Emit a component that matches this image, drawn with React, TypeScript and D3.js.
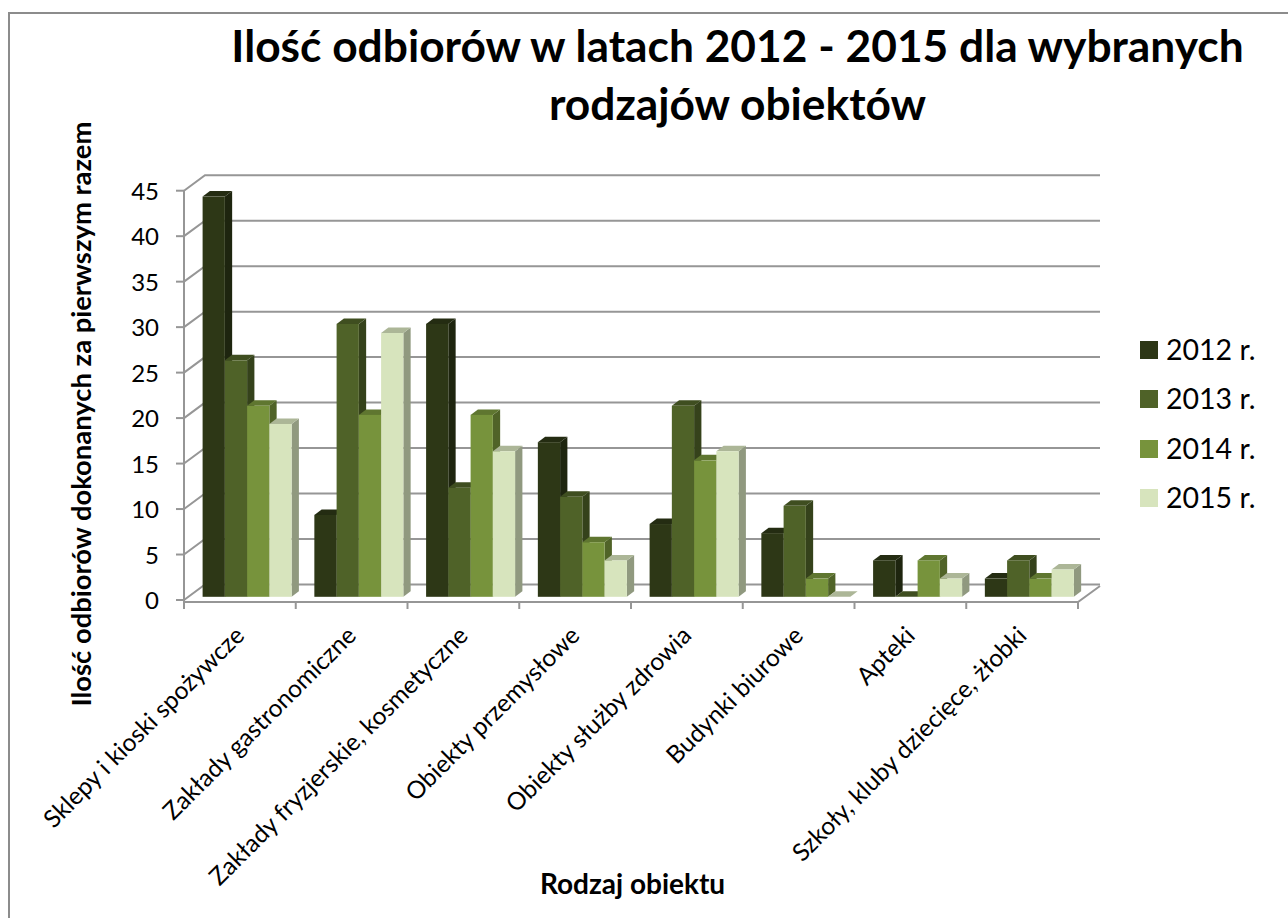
import React from "react";
import * as d3 from "d3";

const categories = ["Sklepy i kioski spożywcze","Zakłady gastronomiczne","Zakłady fryzjerskie, kosmetyczne","Obiekty przemysłowe","Obiekty służby zdrowia","Budynki biurowe","Apteki","Szkoły, kluby dziecięce, żłobki"];
const years = ["2012 r.","2013 r.","2014 r.","2015 r."];
const v2012 = [44,9,30,17,8,7,4,2];
const v2013 = [26,30,12,11,21,10,0,4];
const v2014 = [21,20,20,6,15,2,4,2];
const v2015 = [19,29,16,4,16,0,2,3];
const series = [v2012,v2013,v2014,v2015];
const yTicks = d3.range(0,50,5);
const front = ["#2d3716","#4f6228","#77933c","#d7e4bd"];
const side = ["#1e250f","#35421b","#506328","#90997f"];
const topc = ["#242c12","#3f4e20","#5f7630","#acb697"];
const FONT = "Lato, Carlito, Calibri, sans-serif";

export default function App() {
  const x = d3.scaleBand<number>().domain(d3.range(8)).range([184,1078]);
  const y = d3.scaleLinear().domain([0,45]).range([600,190.7]);
  const dxW = 21, dyW = 15.5;
  const barH = (v:number)=> y(0)-y(v);
  const bw = 22.25, bd = 7.3, bdy = 5.5, base = 596.8, off = 18.6;
  const lineC = "#969696";
  return (
    <svg width={1288} height={918} style={{position:"absolute",left:0,top:0,background:"#fff"}} fontFamily={FONT}>
      <rect x={9} y={13} width={1300} height={930} fill="#fff" stroke="#8c8c8c" strokeWidth={2}/>
      <g stroke={lineC} strokeWidth={2} fill="none">
        {yTicks.map(t=>(
          <g key={t}>
            <line x1={176} x2={184} y1={y(t)} y2={y(t)}/>
            <polyline points={`${184},${y(t)} ${184+dxW},${y(t)-dyW} ${1078+dxW+1},${y(t)-dyW}`}/>
          </g>
        ))}
        <line x1={184} x2={184} y1={y(45)} y2={609}/>
        <polyline points={`184,602 1078,602 1100,586`}/>
        {d3.range(9).map(i=>{const px=184+i*x.step();return <line key={i} x1={px} x2={px} y1={602} y2={609}/>;})}
      </g>
      {categories.map((c,i)=>(
        <g key={c}>
          {series.map((s,j)=>{
            const x0 = x(i)!+off+j*bw, h=barH(s[i]), yt=base-h;
            return (
              <g key={j}>
                <polygon points={`${x0+bw},${base} ${x0+bw+bd},${base-bdy} ${x0+bw+bd},${yt-bdy} ${x0+bw},${yt}`} fill={side[j]}/>
                <polygon points={`${x0},${yt} ${x0+bd},${yt-bdy} ${x0+bw+bd},${yt-bdy} ${x0+bw},${yt}`} fill={topc[j]}/>
                <rect x={x0} y={yt} width={bw} height={h} fill={front[j]}/>
              </g>
            );
          })}
        </g>
      ))}
      {yTicks.map(t=>(
        <text key={t} x={159} y={y(t)+9} textAnchor="end" fontSize={24} fill="#000">{t}</text>
      ))}
      {categories.map((c,i)=>{
        const px=x(i)!+x.bandwidth()/2+6;
        return <text key={c} transform={`translate(${px},${637}) rotate(-45)`} textAnchor="end" fontSize={24.5} fill="#000">{c}</text>;
      })}
      <text x={737.5} y={62} textAnchor="middle" fontSize={44.3} fontWeight={700}>Ilość odbiorów w latach 2012 - 2015 dla wybranych</text>
      <text x={737.5} y={120} textAnchor="middle" fontSize={44.3} fontWeight={700}>rodzajów obiektów</text>
      <text transform="translate(91,414) rotate(-90)" textAnchor="middle" fontSize={27.4} fontWeight={700}>Ilość odbiorów dokonanych za pierwszym razem</text>
      <text x={632.5} y={894} textAnchor="middle" fontSize={28} fontWeight={700}>Rodzaj obiektu</text>
      {years.map((l,j)=>{
        const yy=[350,399,449,498][j];
        return <g key={l}>
          <rect x={1140} y={yy-9} width={18} height={18} fill={front[j]}/>
          <text x={1166} y={yy+9.5} fontSize={28.5}>{l}</text>
        </g>;
      })}
    </svg>
  );
}
